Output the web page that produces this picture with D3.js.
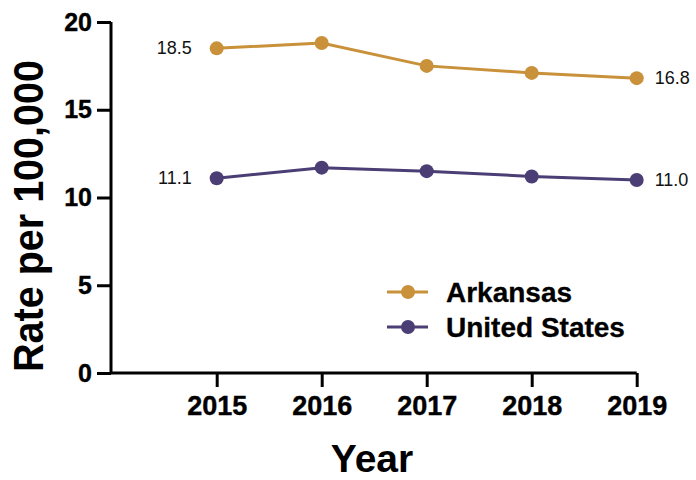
<!DOCTYPE html>
<html><head><meta charset="utf-8">
<script src="https://cdn.jsdelivr.net/npm/d3@7"></script>
<style>body{margin:0;background:#fff}svg{display:block}text{font-family:"Liberation Sans",Arial,sans-serif}</style>
</head><body>
<script>
const years = [2015, 2016, 2017, 2018, 2019];
const arkansas = [18.5, 18.8, 17.5, 17.1, 16.8];
const unitedStates = [11.1, 11.7, 11.5, 11.2, 11.0];
const yTicks = [0, 5, 10, 15, 20];
const seriesNames = ["Arkansas", "United States"];
const colors = ["#C8913A", "#4A3E74"];

const W = 696, H = 480;
const svg = d3.select("body").append("svg").attr("width", W).attr("height", H);
const x = d3.scalePoint().domain(years).range([216.7, 636.7]);
const y = d3.scaleLinear().domain([0, 20]).range([373, 22]);
const x0 = 111;

// axes
const yAxis = svg.append("g").attr("transform", `translate(${x0},0)`)
  .call(d3.axisLeft(y).tickValues(yTicks).tickSize(14).tickPadding(5));
yAxis.select(".domain").attr("stroke-width", 3).attr("d", `M0,${y(20)}V${y(0)}`);
yAxis.selectAll(".tick line").attr("stroke-width", 3);
yAxis.selectAll(".tick text").attr("font-size", 25).attr("font-weight", "bold").attr("fill", "#000")
  .attr("stroke", "#000").attr("stroke-width", 0.4);

const xAxis = svg.append("g").attr("transform", `translate(0,${y(0)})`)
  .call(d3.axisBottom(x).tickSize(14).tickPadding(9));
xAxis.select(".domain").attr("stroke-width", 3).attr("d", `M${x0},0H${x(2019)}`);
xAxis.selectAll(".tick line").attr("stroke-width", 3);
xAxis.selectAll(".tick text").attr("font-size", 27).attr("font-weight", "bold").attr("fill", "#000")
  .attr("stroke", "#000").attr("stroke-width", 0.4);

// axis titles
svg.append("text").attr("transform", `translate(43,216) rotate(-90)`)
  .attr("text-anchor", "middle").attr("font-size", 43).attr("font-weight", "bold")
  .attr("textLength", 312).attr("lengthAdjust", "spacingAndGlyphs").text("Rate per 100,000");
svg.append("text").attr("x", 372).attr("y", 472).attr("text-anchor", "middle")
  .attr("font-size", 39).attr("font-weight", "bold").text("Year");

// series
const series = [arkansas, unitedStates];
const line = d3.line().x((d, i) => x(years[i])).y(d => y(d));
series.forEach((vals, s) => {
  svg.append("path").datum(vals).attr("d", line).attr("fill", "none")
    .attr("stroke", colors[s]).attr("stroke-width", 3);
  svg.selectAll(null).data(vals).enter().append("circle")
    .attr("cx", (d, i) => x(years[i])).attr("cy", d => y(d)).attr("r", 7).attr("fill", colors[s]);
  svg.append("text").attr("x", x(years[0]) - 25).attr("y", y(vals[0]) + 6)
    .attr("text-anchor", "end").attr("font-size", 18).attr("fill", "#111").text(vals[0].toFixed(1));
  svg.append("text").attr("x", x(years[4]) + 18).attr("y", y(vals[4]) + 6)
    .attr("text-anchor", "start").attr("font-size", 18).attr("fill", "#111").text(vals[4].toFixed(1));
});

// legend
seriesNames.forEach((name, s) => {
  const ly = 292 + s * 35;
  svg.append("line").attr("x1", 387).attr("x2", 428).attr("y1", ly).attr("y2", ly)
    .attr("stroke", colors[s]).attr("stroke-width", 3);
  svg.append("circle").attr("cx", 408).attr("cy", ly).attr("r", 7).attr("fill", colors[s]);
  svg.append("text").attr("x", 446).attr("y", ly + 10).attr("font-size", 28)
    .attr("font-weight", "bold").attr("stroke", "#000").attr("stroke-width", 0.3).text(name);
});
</script>
</body></html>
